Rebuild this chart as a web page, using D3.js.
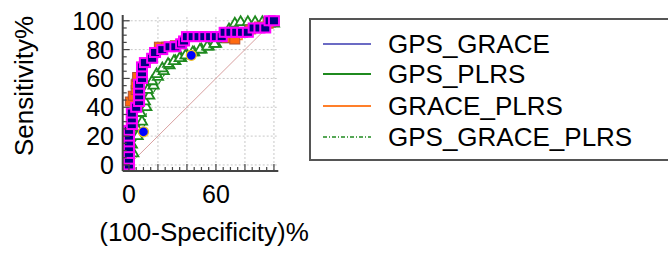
<!DOCTYPE html>
<html>
<head>
<meta charset="utf-8">
<script src="https://cdn.jsdelivr.net/npm/d3@7"></script>
<style>
  html, body { margin: 0; padding: 0; background: #ffffff; }
  svg { display: block; font-family: "Liberation Sans", Arial, sans-serif; }
</style>
</head>
<body>
<svg id="chart" width="668" height="253"></svg>
<script>
// ---------------- DATA ----------------
const seriesNames = ["GPS_GRACE", "GPS_PLRS", "GRACE_PLRS", "GPS_GRACE_PLRS"];
const xTickValues = [0, 60];
const yTickValues = [0, 20, 40, 60, 80, 100];
const gridValues = [0, 20, 40, 60, 80, 100];

// (100-Specificity)% values and Sensitivity% values for each ROC curve
const gpsGraceFpr = [0,0,0,0,0,0,0,2,2,2,5,7,7,7,7,9,9,9,11,16,18,23,28,32,36,38,40,44,48,52,56,60,64,66,70,74,78,82,86,90,94,97,100];
const gpsGraceTpr = [0,4,8,12,16,20,24,28,32,36,40,44,48,52,56,60,64,68,71,74,78,80,82,82,84,86,89,89,89,89,89,89,89,92,92,92,92,92,95,95,95,100,100];

const gpsPlrsFpr = [0,3,2,6,5,9,8,12,11,14,13,17,16,20,19,24,23,28,27,32,31,36,35,40,39,45,44,50,49,55,54,60,59,65,64,70,69,74,73,78,77,83,82,88,87,93,92,97,100];
const gpsPlrsTpr = [0,8,14,20,26,30,36,40,44,48,52,55,58,61,63,65,67,69,70,72,72,74,74,76,76,78,78,80,80,82,82,84,84,87,88,92,94,96,98,97,99,97,99,97,99,97,99,98,98];

const gracePlrsFpr = [0,0,0,0,0,0,0,2,2,2,1,3,5,5,6,9,9,11,16,18,21,26,32,36,40,46,52,58,64,68,73,78,84,90,96,100];
const gracePlrsTpr = [0,4,8,12,16,20,24,28,32,36,44,48,52,56,61,64,68,71,74,78,82,82,83,84,89,89,89,89,89,88,87,92,94,96,98,100];

const gpsGracePlrsFpr = [0,0,3,10,12,14,18,24,30,36,43,50,60,70,80,90,100];
const gpsGracePlrsTpr = [0,10,18,23,36,46,52,62,70,73,76,80,84,90,94,97,100];
const gpsGracePlrsMarkFpr = [10,43];
const gpsGracePlrsMarkTpr = [23,76];

const refFpr = [0, 100];
const refTpr = [0, 100];

// ---------------- DRAW ----------------
const svg = d3.select("#chart");
const x = d3.scaleLinear().domain([-4.3, 103]).range([122.7, 278.3]);
const y = d3.scaleLinear().domain([-4.2, 104]).range([171, 15]);

const zip = (a, b) => a.map((v, i) => [v, b[i]]);

// grid
const grid = svg.append("g");
grid.selectAll("line.gx").data(gridValues.filter(d => d > 0)).join("line")
  .attr("x1", d => x(d)).attr("x2", d => x(d))
  .attr("y1", y(-4.2)).attr("y2", y(104))
  .attr("stroke", "#c8c8c8").attr("stroke-width", 1).attr("stroke-dasharray", "2,2");
grid.selectAll("line.gy").data(gridValues).join("line")
  .attr("y1", d => y(d)).attr("y2", d => y(d))
  .attr("x1", x(-4.3)).attr("x2", x(103))
  .attr("stroke", "#c8c8c8").attr("stroke-width", 1).attr("stroke-dasharray", "2,2");

// reference diagonal
svg.append("path").datum(zip(refFpr, refTpr))
  .attr("d", d3.line().x(d => x(d[0])).y(d => y(d[1])))
  .attr("fill", "none").attr("stroke", "#d9a0a0").attr("stroke-width", 1);

const line = d3.line().x(d => x(d[0])).y(d => y(d[1]));

// GPS_GRACE_PLRS (bottom)
svg.append("path").datum(zip(gpsGracePlrsFpr, gpsGracePlrsTpr))
  .attr("d", line).attr("fill", "none").attr("stroke", "#1f8a1f")
  .attr("stroke-width", 1.2).attr("stroke-dasharray", "4,2,1,2");

// GPS_PLRS
svg.append("path").datum(zip(gpsPlrsFpr, gpsPlrsTpr))
  .attr("d", line).attr("fill", "none").attr("stroke", "#1f8a1f").attr("stroke-width", 3);
svg.append("g").selectAll("path").data(zip(gpsPlrsFpr, gpsPlrsTpr)).join("path")
  .attr("d", d3.symbol().type(d3.symbolTriangle).size(45))
  .attr("transform", d => `translate(${x(d[0])},${y(d[1])})`)
  .attr("fill", "#ffffff").attr("stroke", "#1f8a1f").attr("stroke-width", 1.8);

svg.append("g").selectAll("circle").data(zip(gpsGracePlrsMarkFpr, gpsGracePlrsMarkTpr)).join("circle")
  .attr("cx", d => x(d[0])).attr("cy", d => y(d[1])).attr("r", 5)
  .attr("fill", "#0000ff").attr("stroke", "#f0c020").attr("stroke-width", 1.3);

// GRACE_PLRS
svg.append("path").datum(zip(gracePlrsFpr, gracePlrsTpr))
  .attr("d", d3.line().curve(d3.curveStepAfter).x(d => x(d[0])).y(d => y(d[1])))
  .attr("fill", "none").attr("stroke", "#ff7f27").attr("stroke-width", 1.5);
svg.append("g").selectAll("rect").data(zip(gracePlrsFpr, gracePlrsTpr)).join("rect")
  .attr("x", d => x(d[0]) - 5).attr("y", d => y(d[1]) - 4.5)
  .attr("width", 10).attr("height", 9)
  .attr("fill", "#ff6a10").attr("stroke", "#b05030").attr("stroke-width", 1);

// GPS_GRACE (top)
svg.append("path").datum(zip(gpsGraceFpr, gpsGraceTpr))
  .attr("d", d3.line().curve(d3.curveStepAfter).x(d => x(d[0])).y(d => y(d[1])))
  .attr("fill", "none").attr("stroke", "#3030a0").attr("stroke-width", 1);
svg.append("g").selectAll("rect").data(zip(gpsGraceFpr, gpsGraceTpr)).join("rect")
  .attr("x", d => x(d[0]) - 5).attr("y", d => y(d[1]) - 4.5)
  .attr("width", 10).attr("height", 9)
  .attr("fill", "#000080").attr("stroke", "#ff00ff").attr("stroke-width", 2);

// axes
const axisColor = "#444";
svg.append("line").attr("x1", x(-4.3)).attr("x2", x(-4.3)).attr("y1", y(104)).attr("y2", y(-4.2))
  .attr("stroke", axisColor).attr("stroke-width", 2);
svg.append("line").attr("x1", x(-4.3)).attr("x2", x(103)).attr("y1", y(-4.2)).attr("y2", y(-4.2))
  .attr("stroke", axisColor).attr("stroke-width", 2);

const minor = d3.range(0, 101, 5);
svg.append("g").selectAll("line").data(minor).join("line")
  .attr("x1", x(-4.3)).attr("x2", d => x(-4.3) + (d % 20 === 0 ? 7 : 4))
  .attr("y1", d => y(d)).attr("y2", d => y(d))
  .attr("stroke", axisColor).attr("stroke-width", 1.2);
svg.append("g").selectAll("line").data(minor).join("line")
  .attr("y1", y(-4.2)).attr("y2", d => y(-4.2) - (d % 20 === 0 ? 7 : 4))
  .attr("x1", d => x(d)).attr("x2", d => x(d))
  .attr("stroke", axisColor).attr("stroke-width", 1.2);

// tick labels
svg.append("g").selectAll("text").data(yTickValues).join("text")
  .attr("x", 114).attr("y", d => y(d) + 9)
  .attr("text-anchor", "end").attr("font-size", 25).attr("fill", "#000")
  .text(d => d);
svg.append("g").selectAll("text").data(xTickValues).join("text")
  .attr("x", d => x(d)).attr("y", 203)
  .attr("text-anchor", "middle").attr("font-size", 25).attr("fill", "#000")
  .text(d => d);

// axis titles
svg.append("text").attr("transform", "translate(33,86) rotate(-90)")
  .attr("text-anchor", "middle").attr("font-size", 26).attr("fill", "#000")
  .text("Sensitivity%");
svg.append("text").attr("x", 204).attr("y", 241)
  .attr("text-anchor", "middle").attr("font-size", 26).attr("fill", "#000")
  .text("(100-Specificity)%");

// legend
const legend = svg.append("g");
legend.append("rect").attr("x", 310).attr("y", 19).attr("width", 380).attr("height", 141)
  .attr("fill", "#fff").attr("stroke", "#555").attr("stroke-width", 2);
const legendColors = ["#3a3ab0", "#1f8a1f", "#ff7f2a", "#1f8a1f"];
const legendWidths = [1.5, 2, 2, 1.5];
const legendDash = [null, null, null, "4,2,1,2"];
const legendY = [44, 74, 106, 137];
seriesNames.forEach((name, i) => {
  legend.append("line").attr("x1", 323).attr("x2", 371)
    .attr("y1", legendY[i]).attr("y2", legendY[i])
    .attr("stroke", legendColors[i]).attr("stroke-width", legendWidths[i])
    .attr("stroke-dasharray", legendDash[i]);
  legend.append("text").attr("x", 388).attr("y", legendY[i] + 9)
    .attr("font-size", 26).attr("fill", "#000").text(name);
});
</script>
</body>
</html>
